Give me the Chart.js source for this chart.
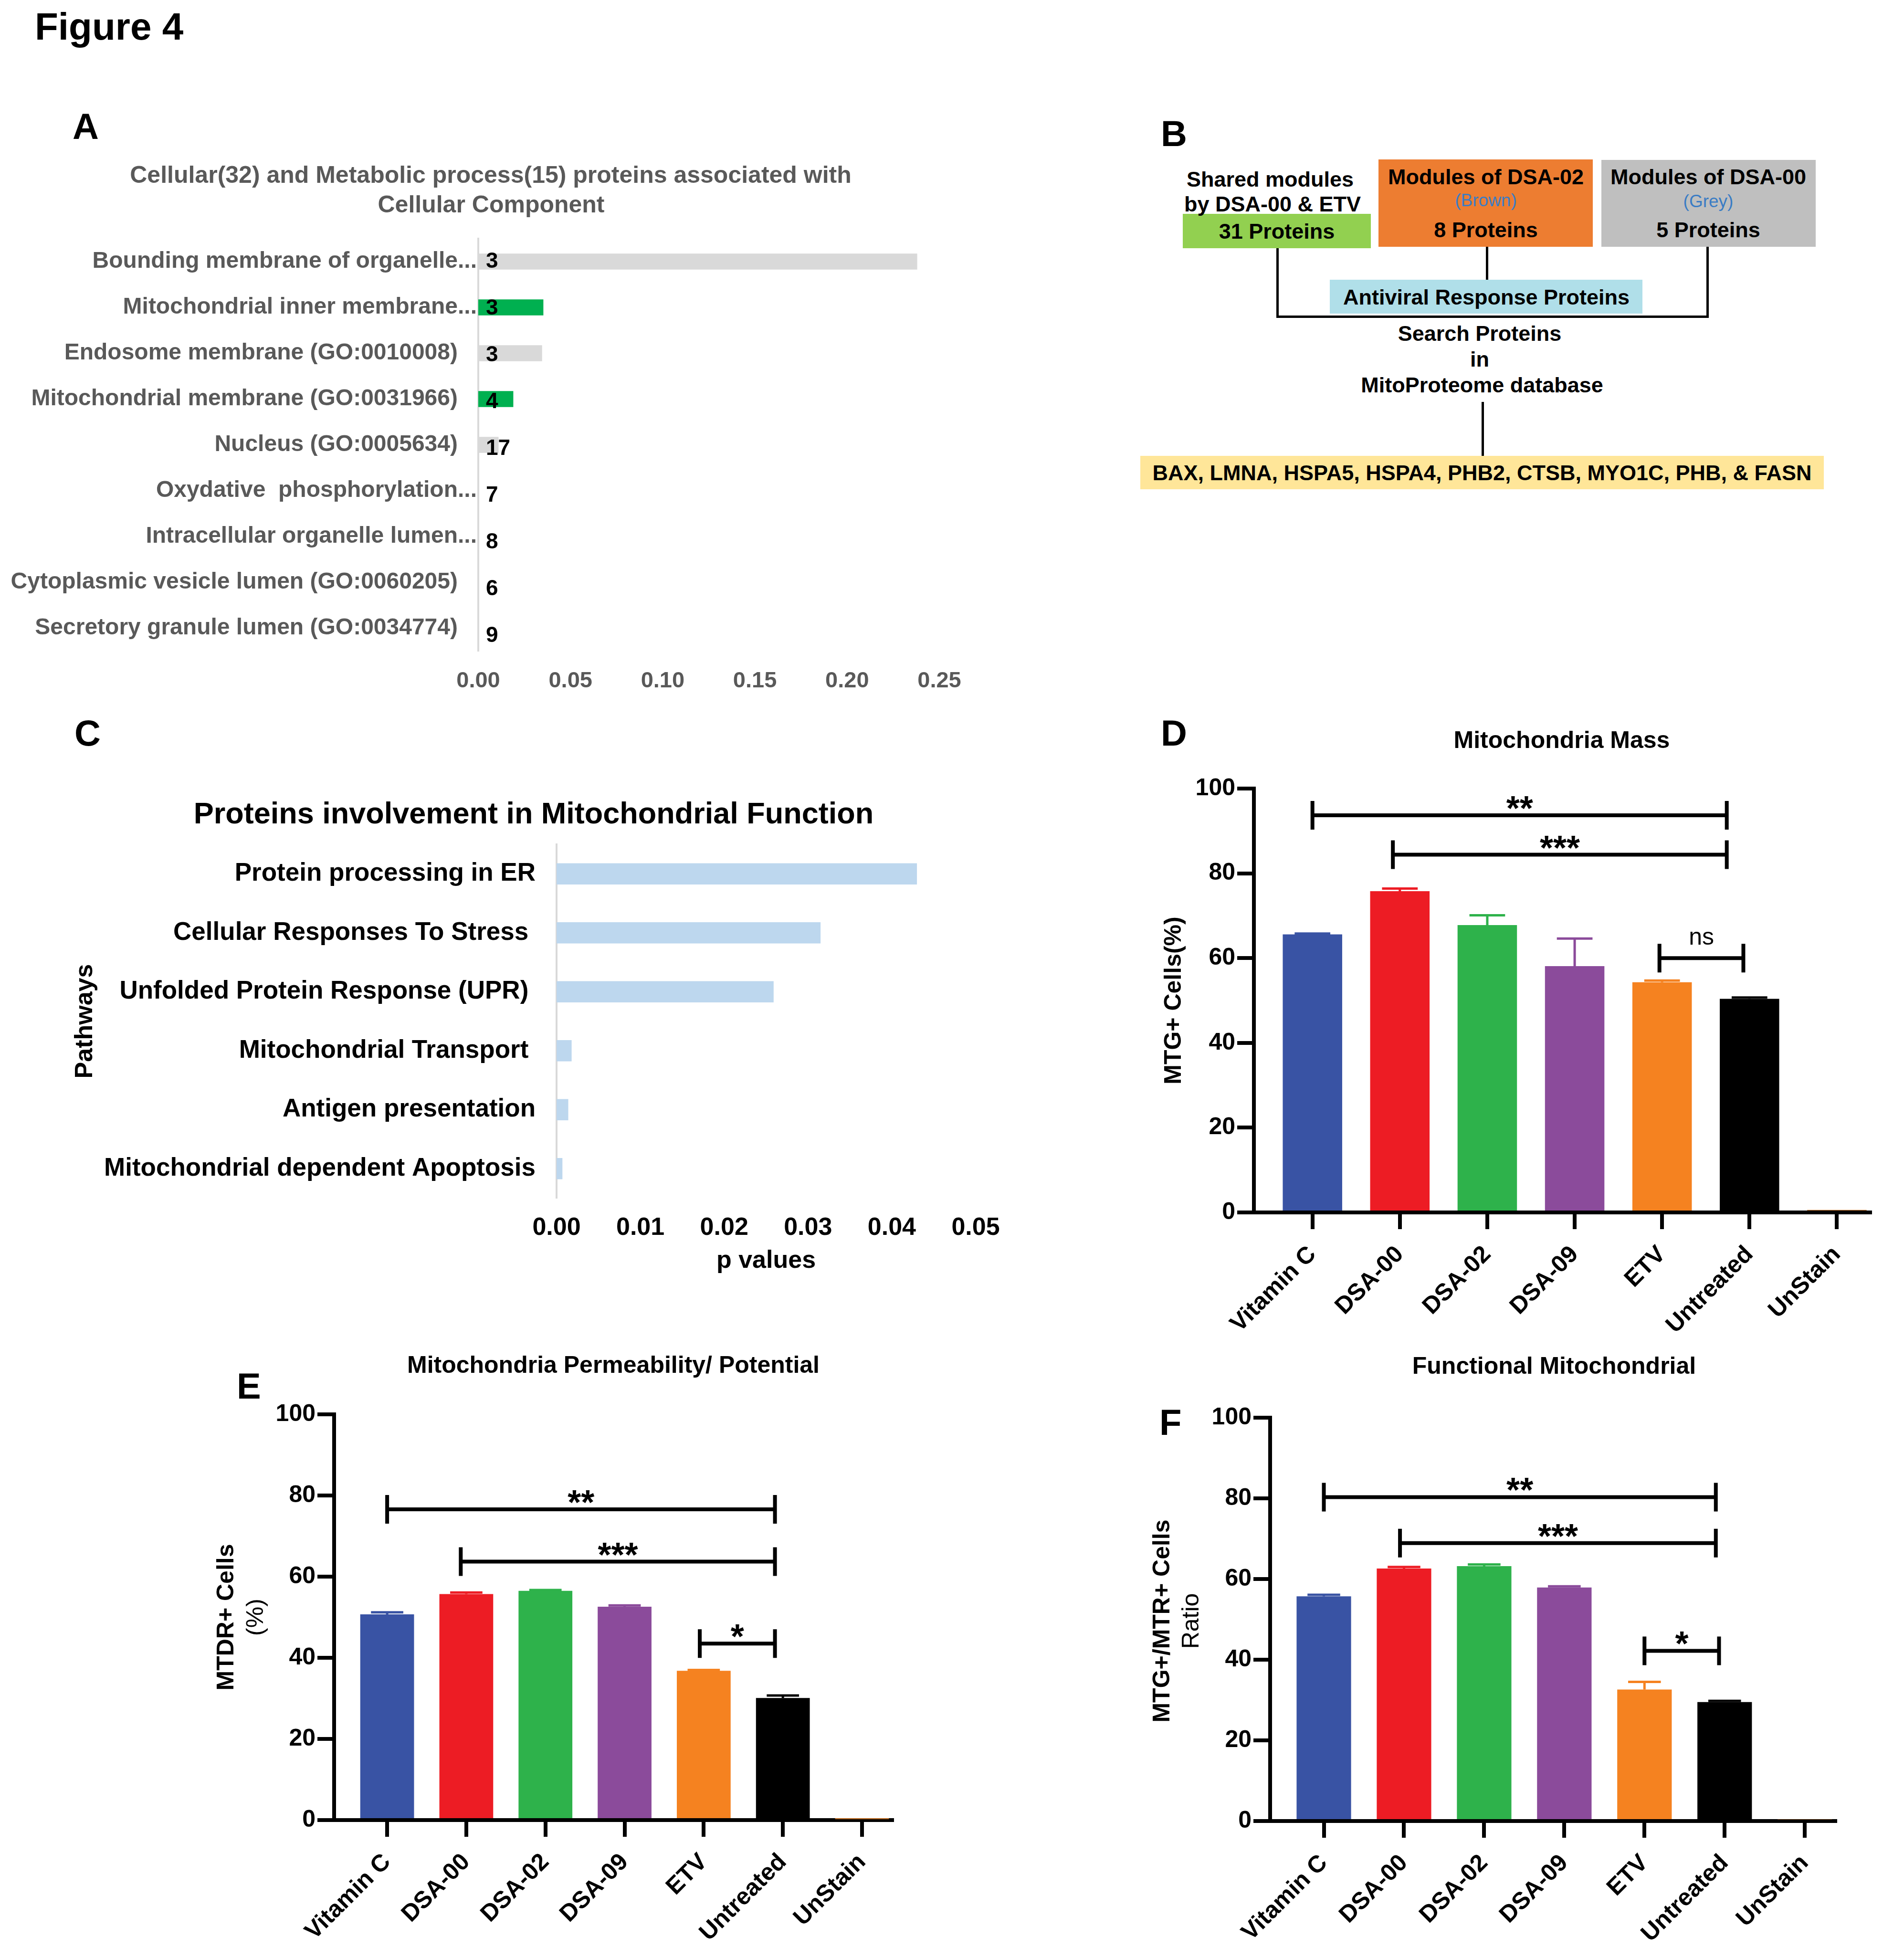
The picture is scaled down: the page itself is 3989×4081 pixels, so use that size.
<!DOCTYPE html>
<html>
<head>
<meta charset="utf-8">
<title>Figure 4</title>
<script src="https://cdn.jsdelivr.net/npm/chart.js@4.4.1/dist/chart.umd.min.js"></script>
<style>
  html, body { margin: 0; padding: 0; background: #fff; }
  body { position: relative; width: 3989px; height: 4081px; overflow: hidden;
         font-family: "Liberation Sans", Arial, sans-serif; color: #000; }
  .t { position: absolute; line-height: 1; white-space: nowrap; font-weight: bold; }
  .c { transform: translate(-50%, -50%); }
  .r { transform: translate(-50%, -50%) rotate(-90deg); }
  .n { font-weight: normal; }
  .box { position: absolute; }
  .ln { position: absolute; background: #000; }
  .wrap { position: absolute; }
</style>
</head>
<body>

<div class="t" style="left:73px;top:16px;font-size:80px">Figure 4</div>

<!-- panel letters -->
<div class="t" style="left:152px;top:227px;font-size:76px">A</div>
<div class="t" style="left:2432px;top:242px;font-size:76px">B</div>
<div class="t" style="left:156px;top:1498px;font-size:76px">C</div>
<div class="t" style="left:2432px;top:1498px;font-size:76px">D</div>
<div class="t" style="left:496px;top:2866px;font-size:76px">E</div>
<div class="t" style="left:2429px;top:2942px;font-size:76px">F</div>

<!-- A -->
<div class="t c" style="left:1028px;top:366px;font-size:50px;color:#595959">Cellular(32) and Metabolic process(15) proteins associated with</div>
<div class="t c" style="left:1029px;top:428px;font-size:50px;color:#595959">Cellular Component</div>
<div class="wrap" style="left:0;top:470px"><canvas id="chartA" width="2060" height="1000"></canvas></div>

<!-- B: flow diagram -->
<div class="box" style="left:2478px;top:448px;width:394px;height:72px;background:#92d050"></div>
<div class="box" style="left:2888px;top:334px;width:449px;height:183px;background:#ed7d31"></div>
<div class="box" style="left:3355px;top:335px;width:449px;height:182px;background:#bfbfbf"></div>
<div class="ln" style="left:2674px;top:520px;width:5px;height:146px"></div>
<div class="ln" style="left:3113px;top:517px;width:5px;height:69px"></div>
<div class="ln" style="left:3575px;top:517px;width:5px;height:149px"></div>
<div class="ln" style="left:2674px;top:661px;width:906px;height:5px"></div>
<div class="ln" style="left:3104px;top:842px;width:5px;height:113px"></div>
<div class="box" style="left:2786px;top:586px;width:655px;height:71px;background:#b0dfe9"></div>
<div class="box" style="left:2389px;top:955px;width:1432px;height:70px;background:#ffe699"></div>
<div class="t c" style="left:2661px;top:375px;font-size:45px">Shared modules</div>
<div class="t c" style="left:2666px;top:427px;font-size:45px">by DSA-00 &amp; ETV</div>
<div class="t c" style="left:2675px;top:484px;font-size:45px">31 Proteins</div>
<div class="t c" style="left:3113px;top:370px;font-size:45px">Modules of DSA-02</div>
<div class="t c n" style="left:3113px;top:419px;font-size:37px;color:#3a7cc4">(Brown)</div>
<div class="t c" style="left:3113px;top:481px;font-size:45px">8 Proteins</div>
<div class="t c" style="left:3579px;top:370px;font-size:45px">Modules of DSA-00</div>
<div class="t c n" style="left:3579px;top:421px;font-size:37px;color:#3a7cc4">(Grey)</div>
<div class="t c" style="left:3579px;top:481px;font-size:45px">5 Proteins</div>
<div class="t c" style="left:3114px;top:622px;font-size:45px">Antiviral Response Proteins</div>
<div class="t c" style="left:3100px;top:698px;font-size:45px">Search Proteins</div>
<div class="t c" style="left:3100px;top:752px;font-size:45px">in</div>
<div class="t c" style="left:3105px;top:806px;font-size:45px">MitoProteome database</div>
<div class="t c" style="left:3105px;top:990px;font-size:45px">BAX, LMNA, HSPA5, HSPA4, PHB2, CTSB, MYO1C, PHB, &amp; FASN</div>

<!-- C -->
<div class="t c" style="left:1118px;top:1703px;font-size:63px">Proteins involvement in Mitochondrial Function</div>
<div class="wrap" style="left:0;top:1740px"><canvas id="chartC" width="2100" height="933"></canvas></div>

<!-- D -->
<div class="t c" style="left:3272px;top:1550px;font-size:50px">Mitochondria Mass</div>
<div class="wrap" style="left:2380px;top:1590px"><canvas id="chartD" width="1600" height="1230"></canvas></div>

<!-- E -->
<div class="t c" style="left:1285px;top:2859px;font-size:50px">Mitochondria Permeability/ Potential</div>
<div class="t r" style="left:472px;top:3388px;font-size:50px">MTDR+ Cells</div>
<div class="t r n" style="left:534px;top:3388px;font-size:50px">(%)</div>
<div class="wrap" style="left:430px;top:2900px"><canvas id="chartE" width="1500" height="1180"></canvas></div>

<!-- F -->
<div class="t c" style="left:3256px;top:2861px;font-size:50px">Functional Mitochondrial</div>
<div class="t r" style="left:2433px;top:3396px;font-size:50px">MTG+/MTR+ Cells</div>
<div class="t r n" style="left:2494px;top:3396px;font-size:50px">Ratio</div>
<div class="wrap" style="left:2400px;top:2900px"><canvas id="chartF" width="1500" height="1180"></canvas></div>

<script>
// --- panel A: cellular component enrichment ---
const ccLabels = [
  'Bounding membrane of organelle...',
  'Mitochondrial inner membrane...',
  'Endosome membrane (GO:0010008)',
  'Mitochondrial membrane (GO:0031966)',
  'Nucleus (GO:0005634)',
  'Oxydative  phosphorylation...',
  'Intracellular organelle lumen...',
  'Cytoplasmic vesicle lumen (GO:0060205)',
  'Secretory granule lumen (GO:0034774)'
];
const ccValues = [0.238, 0.0353, 0.0346, 0.019, 0.011, 0, 0, 0, 0];
const ccCounts = [3, 3, 3, 4, 17, 7, 8, 6, 9];
const ccMito = [false, true, false, true, false, false, false, false, false];
const ccTicks = [0, 0.05, 0.10, 0.15, 0.20, 0.25];

// --- panel C: pathways (some labels carry a trailing space, as in the source sheet) ---
const pathLabels = [
  'Protein processing in ER',
  'Cellular Responses To Stress ',
  'Unfolded Protein Response (UPR) ',
  'Mitochondrial Transport ',
  'Antigen presentation',
  'Mitochondrial dependent Apoptosis'
];
const pathValues = [0.0430, 0.0315, 0.0259, 0.0018, 0.0014, 0.0007];
const pTicks = [0, 0.01, 0.02, 0.03, 0.04, 0.05];

// --- panels D, E, F: treatment groups ---
const groups = ['Vitamin C', 'DSA-00', 'DSA-02', 'DSA-09', 'ETV', 'Untreated', 'UnStain'];
const groupTicks = [0, 1, 2, 3, 4, 5, 6];
const pctTicks = [0, 20, 40, 60, 80, 100];

const massValues = [65.6, 75.8, 67.8, 58.1, 54.3, 50.4, 0.6];
const massErrors = [0.2, 0.6, 2.3, 6.5, 0.4, 0.3, 0];
const massBrackets = [
  { from: 0, to: 4.74, at: 93.7, text: '**' },
  { from: 0.92, to: 4.74, at: 84.4, text: '***' },
  { from: 3.97, to: 4.93, at: 60.0, text: 'ns' }
];

const permValues = [50.7, 55.7, 56.5, 52.6, 36.8, 30.1, 0.2];
const permErrors = [0.5, 0.4, 0.2, 0.3, 0.2, 0.6, 0];
const permBrackets = [
  { from: 0, to: 4.9, at: 76.6, text: '**' },
  { from: 0.93, to: 4.9, at: 63.7, text: '***' },
  { from: 3.95, to: 4.9, at: 43.5, text: '*' }
];

const funcValues = [55.7, 62.6, 63.2, 57.9, 32.6, 29.5, 0.4];
const funcErrors = [0.4, 0.4, 0.4, 0.3, 1.9, 0.3, 0];
const funcBrackets = [
  { from: 0, to: 4.89, at: 80.3, text: '**' },
  { from: 0.95, to: 4.89, at: 68.9, text: '***' },
  { from: 4.0, to: 4.93, at: 42.2, text: '*' }
];

const groupColors = ['#3953a4', '#ed1c24', '#2eb24b', '#8b4b9b', '#f58220', '#000000', '#b5651d'];

const FONT = '"Liberation Sans", Arial, sans-serif';
Chart.defaults.font.family = FONT;
Chart.defaults.color = '#000';

// fixed axis box sizes so the plot areas line up with the figure
function fixBox(w, h) {
  return function (scale) {
    if (w !== null) scale.width = w;
    if (h !== null) scale.height = h;
    scale.paddingLeft = 0;
    scale.paddingRight = 0;
    scale.paddingTop = 0;
    scale.paddingBottom = 0;
  };
}

function useTicks(values) {
  return function (scale) {
    scale.ticks = values.map(v => ({ value: v }));
  };
}

function countPlugin(counts) {
  return {
    id: 'counts',
    afterDatasetsDraw(chart) {
      const ctx = chart.ctx;
      const x0 = chart.scales.x.getPixelForValue(0);
      ctx.save();
      ctx.font = 'bold 46px ' + FONT;
      ctx.fillStyle = '#000';
      ctx.textAlign = 'left';
      ctx.textBaseline = 'middle';
      chart.getDatasetMeta(0).data.forEach((bar, i) => {
        ctx.fillText(String(counts[i]), x0 + 16, bar.y + i * 2);
      });
      ctx.restore();
    }
  };
}

function errorPlugin(values, errors) {
  return {
    id: 'errorBars',
    afterDatasetsDraw(chart) {
      const ctx = chart.ctx;
      const y = chart.scales.y;
      ctx.save();
      ctx.lineWidth = 5;
      chart.getDatasetMeta(0).data.forEach((bar, i) => {
        if (!errors[i]) return;
        const top = y.getPixelForValue(values[i] + errors[i]);
        const half = bar.width * 0.3;
        ctx.strokeStyle = groupColors[i];
        ctx.beginPath();
        ctx.moveTo(bar.x, bar.y);
        ctx.lineTo(bar.x, top);
        ctx.moveTo(bar.x - half, top);
        ctx.lineTo(bar.x + half, top);
        ctx.stroke();
      });
      ctx.restore();
    }
  };
}

function bracketPlugin(items) {
  return {
    id: 'brackets',
    afterDraw(chart) {
      const ctx = chart.ctx;
      const xs = chart.scales.x, ys = chart.scales.y;
      ctx.save();
      ctx.strokeStyle = '#000';
      ctx.fillStyle = '#000';
      ctx.lineWidth = 8;
      ctx.textAlign = 'center';
      ctx.textBaseline = 'alphabetic';
      items.forEach(b => {
        const x1 = xs.getPixelForValue(b.from);
        const x2 = xs.getPixelForValue(b.to);
        const yy = ys.getPixelForValue(b.at);
        ctx.beginPath();
        ctx.moveTo(x1, yy - 30); ctx.lineTo(x1, yy + 30);
        ctx.moveTo(x2, yy - 30); ctx.lineTo(x2, yy + 30);
        ctx.moveTo(x1, yy); ctx.lineTo(x2, yy);
        ctx.stroke();
        if (b.text === 'ns') {
          ctx.font = '50px ' + FONT;
          ctx.fillText(b.text, (x1 + x2) / 2, yy - 28);
        } else {
          ctx.font = 'bold 72px ' + FONT;
          ctx.fillText(b.text, (x1 + x2) / 2, yy + 10);
        }
      });
      ctx.restore();
    }
  };
}

const noLegend = { legend: { display: false }, tooltip: { enabled: false } };

// A: Excel pushes the truncated "..." labels right up to the axis, full labels keep a gap
new Chart(document.getElementById('chartA'), {
  type: 'bar',
  data: {
    labels: ccLabels,
    datasets: [{
      data: ccValues,
      backgroundColor: ccMito.map(m => m ? '#00b050' : '#d9d9d9'),
      barPercentage: 0.35,
      categoryPercentage: 1
    }]
  },
  options: {
    indexAxis: 'y',
    responsive: false,
    animation: false,
    devicePixelRatio: 1,
    layout: { padding: { left: 0, top: 30, right: 92, bottom: 0 } },
    plugins: noLegend,
    scales: {
      x: {
        min: 0, max: 0.25,
        afterBuildTicks: useTicks(ccTicks),
        afterFit: fixBox(null, 106),
        grid: { display: false, drawTicks: false },
        border: { display: false },
        ticks: { color: '#595959', font: { size: 47, weight: 'bold' }, padding: 35,
                 callback: v => v.toFixed(2) }
      },
      y: {
        afterFit: fixBox(1002, null),
        grid: { display: false, drawTicks: false },
        border: { display: true, color: '#d9d9d9', width: 4 },
        ticks: {
          color: '#595959', font: { size: 48, weight: 'bold' }, padding: 3, autoSkip: false,
          callback: (v, i) => ccLabels[i].endsWith('...') ? ccLabels[i] : ccLabels[i] + '\u00a0\u00a0\u00a0'
        }
      }
    }
  },
  plugins: [countPlugin(ccCounts)]
});

// C
new Chart(document.getElementById('chartC'), {
  type: 'bar',
  data: {
    labels: pathLabels,
    datasets: [{ data: pathValues, backgroundColor: '#bdd7ee', barPercentage: 0.36, categoryPercentage: 1 }]
  },
  options: {
    indexAxis: 'y',
    responsive: false,
    animation: false,
    devicePixelRatio: 1,
    layout: { padding: { left: 0, top: 29, right: 56, bottom: 0 } },
    plugins: noLegend,
    scales: {
      x: {
        min: 0, max: 0.05,
        afterBuildTicks: useTicks(pTicks),
        afterFit: fixBox(null, 163),
        grid: { display: false, drawTicks: false },
        border: { display: false },
        ticks: { font: { size: 52, weight: 'bold' }, padding: 31, callback: v => v.toFixed(2) },
        title: { display: true, text: 'p values', font: { size: 52, weight: 'bold' }, padding: { top: 0, bottom: 0 } }
      },
      y: {
        afterFit: fixBox(1166, null),
        grid: { display: false, drawTicks: false },
        border: { display: true, color: '#d9d9d9', width: 4 },
        ticks: { font: { size: 53, weight: 'bold' }, padding: 44, autoSkip: false },
        title: { display: true, text: 'Pathways', font: { size: 52, weight: 'bold' }, padding: { top: 147, bottom: 0 } }
      }
    }
  }
});

// D, E, F share one layout (GraphPad style: x axis runs a little past the bars on the left)
const axisGrid = {
  display: true, drawOnChartArea: false, drawTicks: true, offset: false,
  tickLength: 35, tickWidth: 8, tickColor: '#000', lineWidth: 8, color: '#000'
};
const axisBorder = { display: true, color: '#000', width: 8 };

function groupChart(id, values, errors, brackets, dims, yTitle) {
  return new Chart(document.getElementById(id), {
    type: 'bar',
    data: {
      datasets: [{
        data: values.map((v, i) => ({ x: groupTicks[i], y: v })),
        backgroundColor: groupColors,
        barPercentage: 0.68,
        categoryPercentage: 1
      }]
    },
    options: {
      responsive: false,
      animation: false,
      devicePixelRatio: 1,
      layout: { padding: { left: 0, top: dims.top, right: dims.right, bottom: 0 } },
      plugins: noLegend,
      scales: {
        x: {
          type: 'linear',
          offset: false,
          min: -0.67, max: 6.38,
          afterBuildTicks: useTicks(groupTicks),
          afterFit: fixBox(null, dims.xh),
          grid: axisGrid,
          border: axisBorder,
          ticks: { font: { size: 50, weight: 'bold' }, minRotation: 45, maxRotation: 45, padding: 24,
                   autoSkip: false, callback: v => groups[v] }
        },
        y: {
          min: 0, max: 100,
          afterBuildTicks: useTicks(pctTicks),
          afterFit: fixBox(dims.yw, null),
          grid: axisGrid,
          border: axisBorder,
          ticks: { font: { size: 50, weight: 'bold' }, padding: 4 },
          title: yTitle
            ? { display: true, text: yTitle, font: { size: 50, weight: 'bold' }, padding: { top: dims.tp, bottom: 0 } }
            : { display: false }
        }
      }
    },
    plugins: [errorPlugin(values, errors), bracketPlugin(brackets)]
  });
}

groupChart('chartD', massValues, massErrors, massBrackets, { yw: 247, xh: 280, top: 62, right: 62, tp: 50 }, 'MTG+ Cells(%)');
groupChart('chartE', permValues, permErrors, permBrackets, { yw: 270, xh: 267, top: 63, right: 61 });
groupChart('chartF', funcValues, funcErrors, funcBrackets, { yw: 261, xh: 265, top: 70, right: 55 });
</script>
</body>
</html>
